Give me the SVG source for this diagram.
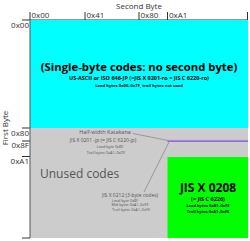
<svg xmlns="http://www.w3.org/2000/svg" width="250" height="241" viewBox="0 0 250 241">
<style>
text{font-family:"Open Sans","Noto Sans","DejaVu Sans",sans-serif}
.ax{fill:#333;font-size:8px}
.tick{stroke:#333;stroke-width:1;fill:none}
.g{fill:#555}
.b{fill:#000;font-weight:bold}
.lead{stroke:#777;stroke-width:0.6;fill:none}
</style>
<rect width="250" height="241" fill="#fff"/>
<g id="axes">
<text class="ax" x="139" y="8.5" text-anchor="middle" font-size="9">Second Byte</text>
<line class="tick" x1="22" y1="20" x2="248" y2="20"/>
<line class="tick" x1="30" y1="12" x2="30" y2="20"/>
<line class="tick" x1="85" y1="12" x2="85" y2="20"/>
<line class="tick" x1="139" y1="12" x2="139" y2="20"/>
<line class="tick" x1="167.5" y1="12" x2="167.5" y2="20"/>
<line class="tick" x1="247.5" y1="12" x2="247.5" y2="20"/>
<text class="ax" x="31.5" y="18">0x00</text>
<text class="ax" x="86.5" y="18">0x41</text>
<text class="ax" x="140.5" y="18">0x80</text>
<text class="ax" x="169" y="18">0xA1</text>
<text class="ax" transform="translate(8,128) rotate(-90)" text-anchor="middle">First Byte</text>
<line class="tick" x1="22" y1="128" x2="30" y2="128"/>
<line class="tick" x1="22" y1="141" x2="30" y2="141"/>
<line class="tick" x1="22" y1="156.5" x2="30" y2="156.5"/>
<line class="tick" x1="22" y1="238" x2="30" y2="238"/>
<text class="ax" x="29" y="27.5" text-anchor="end">0x00</text>
<text class="ax" x="29" y="135.5" text-anchor="end">0x80</text>
<text class="ax" x="29" y="148" text-anchor="end">0x8F</text>
<text class="ax" x="29" y="163.5" text-anchor="end">0xA1</text>
</g>
<g id="single-byte">
<rect x="30" y="20" width="218" height="108" fill="#00ffff"/>
<text class="b" x="139" y="71" text-anchor="middle" font-size="11.3">(Single-byte codes: no second byte)</text>
<text class="b" x="139" y="80" text-anchor="middle" font-size="5.5">US-ASCII or ISO 646-JP (=JIS X 0201-ro = JIS C 6220-ro)</text>
<text class="b" x="139" y="86.5" text-anchor="middle" font-size="4.2">Lead bytes 0x00–0x7F, trail bytes not used</text>
</g>
<g id="unused">
<rect x="30" y="128" width="218" height="110" fill="#cccccc"/>
<rect x="30" y="129" width="218" height="1" fill="#e0c4dc"/>
<text class="g" x="40" y="178" font-size="12">Unused codes</text>
</g>
<g id="katakana">
<rect x="167.5" y="139.8" width="80.5" height="1" fill="#c080e0"/>
<text class="g" x="105" y="134" text-anchor="middle" font-size="5.5">Half-width Katakana</text>
<text class="g" x="103" y="141.5" text-anchor="middle" font-size="5">JIS X 0201 -jp (= JIS C 6220-jp)</text>
<text class="g" x="110" y="148" text-anchor="middle" font-size="3.8">Lead byte 0x8E</text>
<text class="g" x="106" y="154" text-anchor="middle" font-size="3.8">Trail bytes 0xA1–0xDF</text>
</g>
<g id="jisx0212">
<rect x="167.5" y="140.8" width="80.5" height="1" fill="#7a5ad8"/>
<text class="g" x="130" y="197" text-anchor="middle" font-size="5">JIS X 0212 (3-byte codes)</text>
<text class="g" x="125" y="201.5" text-anchor="middle" font-size="3.8">Lead byte 0x8F</text>
<text class="g" x="130" y="206" text-anchor="middle" font-size="3.8">Mid bytes 0xA1–0xFE</text>
<text class="g" x="131" y="210.5" text-anchor="middle" font-size="3.8">Trail bytes 0xA1–0xFE</text>
</g>
<g id="jisx0208">
<rect x="167.5" y="157" width="80.5" height="81" fill="#00ff00"/>
<text class="b" x="208" y="191.5" text-anchor="middle" font-size="12">JIS X 0208</text>
<text class="b" x="208" y="201" text-anchor="middle" font-size="5.5">(= JIS C 6226)</text>
<text class="b" x="208" y="207" text-anchor="middle" font-size="4">Lead bytes 0xA1–0xFE</text>
<text class="b" x="208" y="213" text-anchor="middle" font-size="4">Trail bytes 0xA1–0xFE</text>
</g>
<line x1="30" y1="20" x2="30" y2="238" stroke="#555" stroke-width="1"/>
<g id="connectors">
<line class="lead" x1="133" y1="133.5" x2="168" y2="140.5"/>
<line class="lead" x1="169" y1="142" x2="144" y2="192"/>
</g>
</svg>
